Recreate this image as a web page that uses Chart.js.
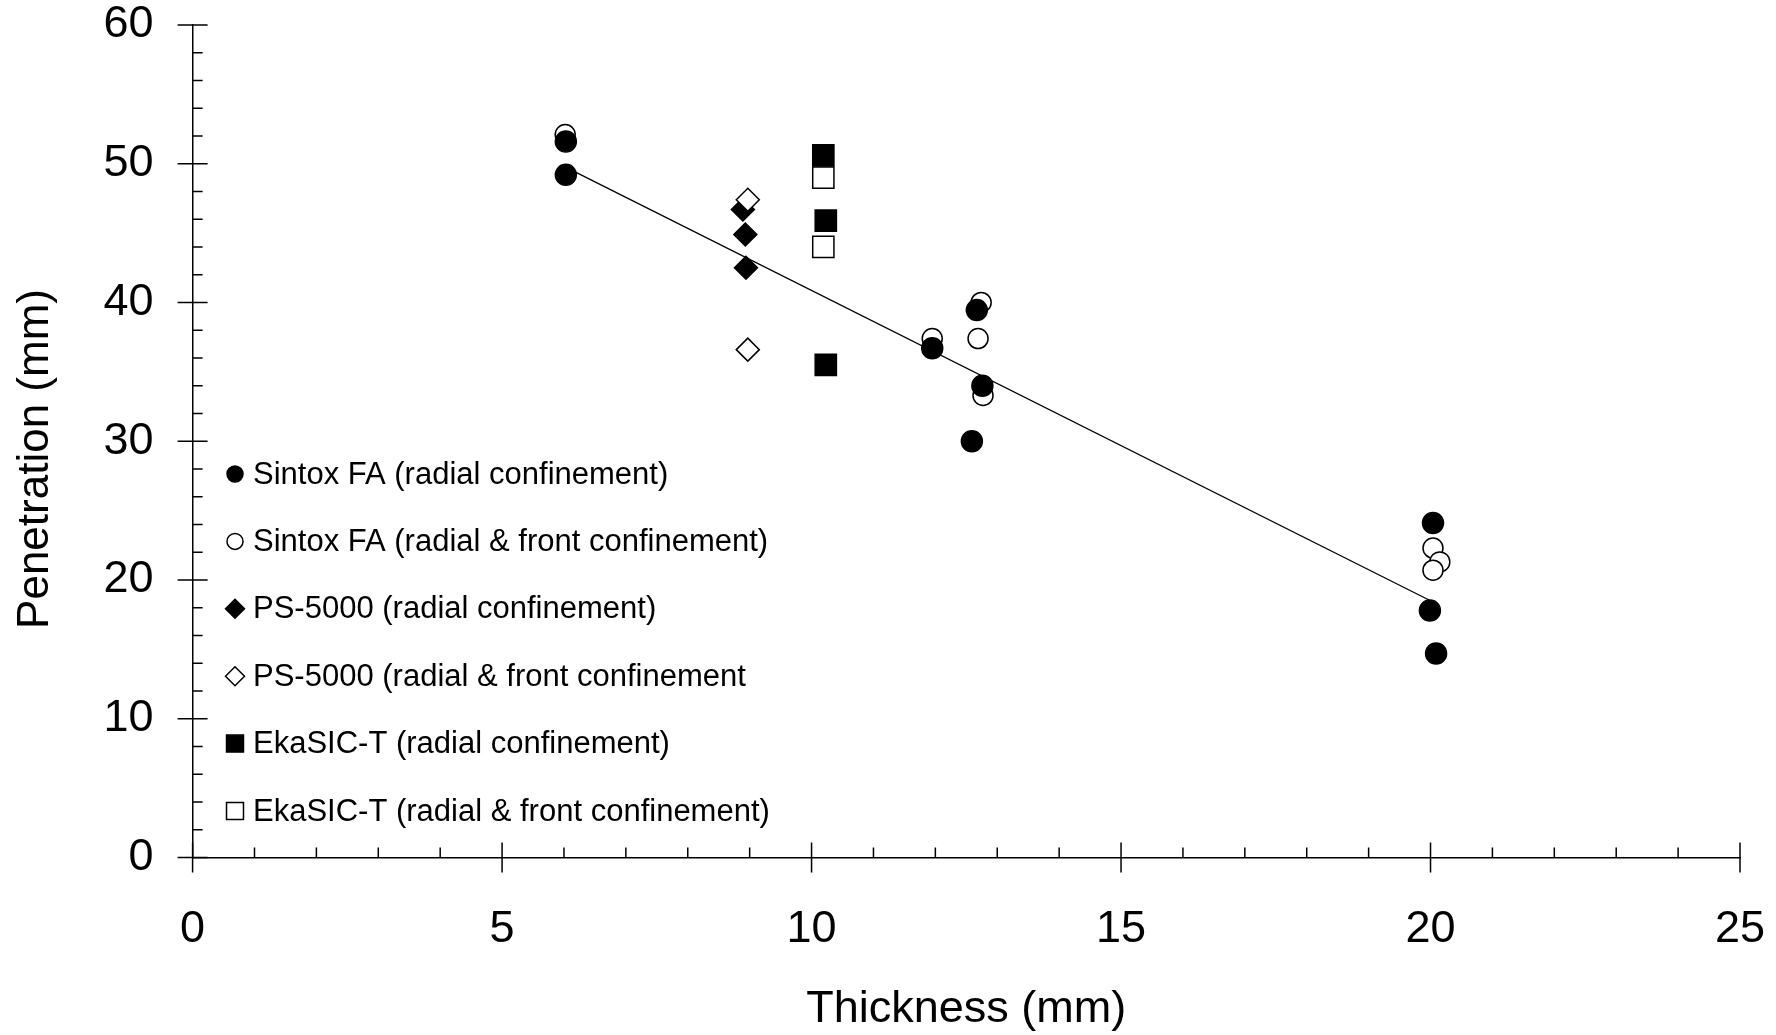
<!DOCTYPE html>
<html>
<head>
<meta charset="utf-8">
<title>Penetration vs Thickness</title>
<script src="https://cdn.jsdelivr.net/npm/chart.js@4.4.1/dist/chart.umd.min.js"></script>
<style>
    html, body { margin: 0; padding: 0; background: #ffffff; }
    #chartContainer { position: relative; width: 1776px; height: 1035px; }
</style>
</head>
<body>
<div id="chartContainer"><canvas id="scatterGraph"></canvas></div>
<script>
// values (thickness mm, penetration mm)
var sintoxRadX = [6.03, 6.03, 11.95, 12.67, 12.76, 12.59, 20.04, 19.99, 20.09];
var sintoxRadY = [51.6, 49.2, 36.7, 39.45, 34.0, 30.0, 24.1, 17.8, 14.7];
var sintoxFrontX = [6.02, 11.95, 12.74, 12.69, 12.77, 20.04, 20.15, 20.04];
var sintoxFrontY = [52.1, 37.4, 40.0, 37.4, 33.3, 22.3, 21.3, 20.7];
var psRadX = [8.93, 8.94, 8.89];
var psRadY = [44.9, 42.5, 46.7];
var psFrontX = [8.97, 8.97];
var psFrontY = [47.4, 36.6];
var ekaRadX = [10.19, 10.23, 10.23];
var ekaRadY = [50.6, 45.9, 35.5];
var ekaFrontX = [10.19, 10.19];
var ekaFrontY = [49.0, 44.0];
var fitX = [6.05, 20.0];
var fitY = [49.7, 18.5];

var seriesLabels = [
    "Sintox FA (radial confinement)",
    "Sintox FA (radial & front confinement)",
    "PS-5000 (radial confinement)",
    "PS-5000 (radial & front confinement",
    "EkaSIC-T (radial confinement)",
    "EkaSIC-T (radial & front confinement)"
];
var xTitle = "Thickness (mm)";
var yTitle = "Penetration (mm)";

var fontName = '"Liberation Sans", Arial, sans-serif';
Chart.defaults.font.family = fontName;
Chart.defaults.color = "#000000";

function toPoints(xs, ys) {
    var pts = [];
    for (let i = 0; i < xs.length; i++) {
        pts.push({x: xs[i], y: ys[i]});
    }
    return pts;
}

function markerSet(label, xs, ys, style, filled, radius, legendRadius, drawOrder) {
    return {
        type: "scatter",
        label: label,
        data: toPoints(xs, ys),
        order: drawOrder,
        pointStyle: style,
        pointRadius: radius,
        pointHoverRadius: radius,
        pointBorderWidth: 1.5,
        borderColor: "#000000",
        backgroundColor: filled ? "#000000" : "#ffffff",
        legendRadius: legendRadius
    };
}

// axis lines with major ticks crossing and minor ticks inside
var tickPlugin = {
    id: "tickMarks",
    afterDraw: function(chart) {
        var ctx = chart.ctx;
        var xs = chart.scales.x;
        var ys = chart.scales.y;
        var x0 = xs.getPixelForValue(0);
        var y0 = ys.getPixelForValue(0);
        ctx.save();
        ctx.strokeStyle = "#000000";
        ctx.lineWidth = 1.5;
        ctx.beginPath();
        for (let v = 0; v <= 60; v += 2) {
            var py = ys.getPixelForValue(v);
            if (v % 10 == 0) {
                ctx.moveTo(x0 - 15, py);
                ctx.lineTo(x0 + 15, py);
            } else {
                ctx.moveTo(x0, py);
                ctx.lineTo(x0 + 10, py);
            }
        }
        for (let v = 0; v <= 25; v += 1) {
            var px = xs.getPixelForValue(v);
            if (v % 5 == 0) {
                ctx.moveTo(px, y0 - 15);
                ctx.lineTo(px, y0 + 15);
            } else {
                ctx.moveTo(px, y0 - 10);
                ctx.lineTo(px, y0);
            }
        }
        ctx.stroke();

        // axis titles
        ctx.fillStyle = "#000000";
        ctx.textAlign = "center";
        ctx.textBaseline = "middle";
        ctx.font = "45px " + fontName;
        ctx.fillText(xTitle, (chart.chartArea.left + chart.chartArea.right) / 2, 1010);
        ctx.font = "44px " + fontName;
        ctx.translate(36, 459);
        ctx.rotate(-Math.PI / 2);
        ctx.fillText(yTitle, 0, 0);
        ctx.restore();
    }
};

// legend placed inside the plot, lower left
var legendPlugin = {
    id: "insideLegend",
    afterDraw: function(chart) {
        var ctx = chart.ctx;
        var sets = chart.data.datasets;
        var row = 0;
        ctx.save();
        ctx.font = "31px " + fontName;
        ctx.textAlign = "left";
        ctx.textBaseline = "middle";
        for (let i = 0; i < sets.length; i++) {
            if (!sets[i].label) continue;
            var cy = 474 + row * 67.4;
            ctx.fillStyle = sets[i].backgroundColor;
            ctx.strokeStyle = "#000000";
            ctx.lineWidth = 1.5;
            Chart.helpers.drawPoint(ctx, {pointStyle: sets[i].pointStyle, radius: sets[i].legendRadius, borderWidth: 1.5}, 235, cy);
            ctx.fillStyle = "#000000";
            ctx.fillText(sets[i].label, 253, cy + 1);
            row++;
        }
        ctx.restore();
    }
};

var elem = document.getElementById("scatterGraph").getContext("2d");

const newChart = new Chart(elem, {
    type: "scatter",
    data: {
        datasets: [
            markerSet(seriesLabels[0], sintoxRadX, sintoxRadY, "circle", true, 10.5, 8, 0),
            markerSet(seriesLabels[1], sintoxFrontX, sintoxFrontY, "circle", false, 10, 8, 0),
            markerSet(seriesLabels[2], psRadX, psRadY, "rectRot", true, 11.5, 9.5, 1),
            markerSet(seriesLabels[3], psFrontX, psFrontY, "rectRot", false, 11.5, 9.5, 0),
            markerSet(seriesLabels[4], ekaRadX, ekaRadY, "rect", true, 15, 12, 0),
            markerSet(seriesLabels[5], ekaFrontX, ekaFrontY, "rect", false, 15, 12, 0),
            {
                type: "line",
                label: "",
                data: toPoints(fitX, fitY),
                order: 2,
                borderColor: "#000000",
                borderWidth: 1.3,
                pointRadius: 0,
                fill: false,
                tension: 0
            }
        ]
    },
    options: {
        responsive: true,
        maintainAspectRatio: false,
        animation: false,
        layout: {
            padding: {left: 0, right: 36, top: 25, bottom: 0}
        },
        plugins: {
            legend: {display: false},
            tooltip: {enabled: false}
        },
        scales: {
            x: {
                type: "linear",
                min: 0,
                max: 25,
                afterFit: function(scale) {
                    scale.height = 177.6;
                    scale.paddingLeft = 0;
                    scale.paddingRight = 0;
                },
                grid: {display: false, drawTicks: false},
                border: {display: true, color: "#000000", width: 1.5},
                ticks: {
                    stepSize: 5,
                    padding: 45,
                    color: "#000000",
                    font: {size: 45}
                }
            },
            y: {
                type: "linear",
                min: 0,
                max: 60,
                afterFit: function(scale) {
                    scale.width = 192.6;
                    scale.paddingTop = 0;
                    scale.paddingBottom = 0;
                },
                grid: {display: false, drawTicks: false},
                border: {display: true, color: "#000000", width: 1.5},
                ticks: {
                    stepSize: 10,
                    padding: 39,
                    color: "#000000",
                    font: {size: 45}
                }
            }
        }
    },
    plugins: [tickPlugin, legendPlugin]
});
</script>
</body>
</html>
